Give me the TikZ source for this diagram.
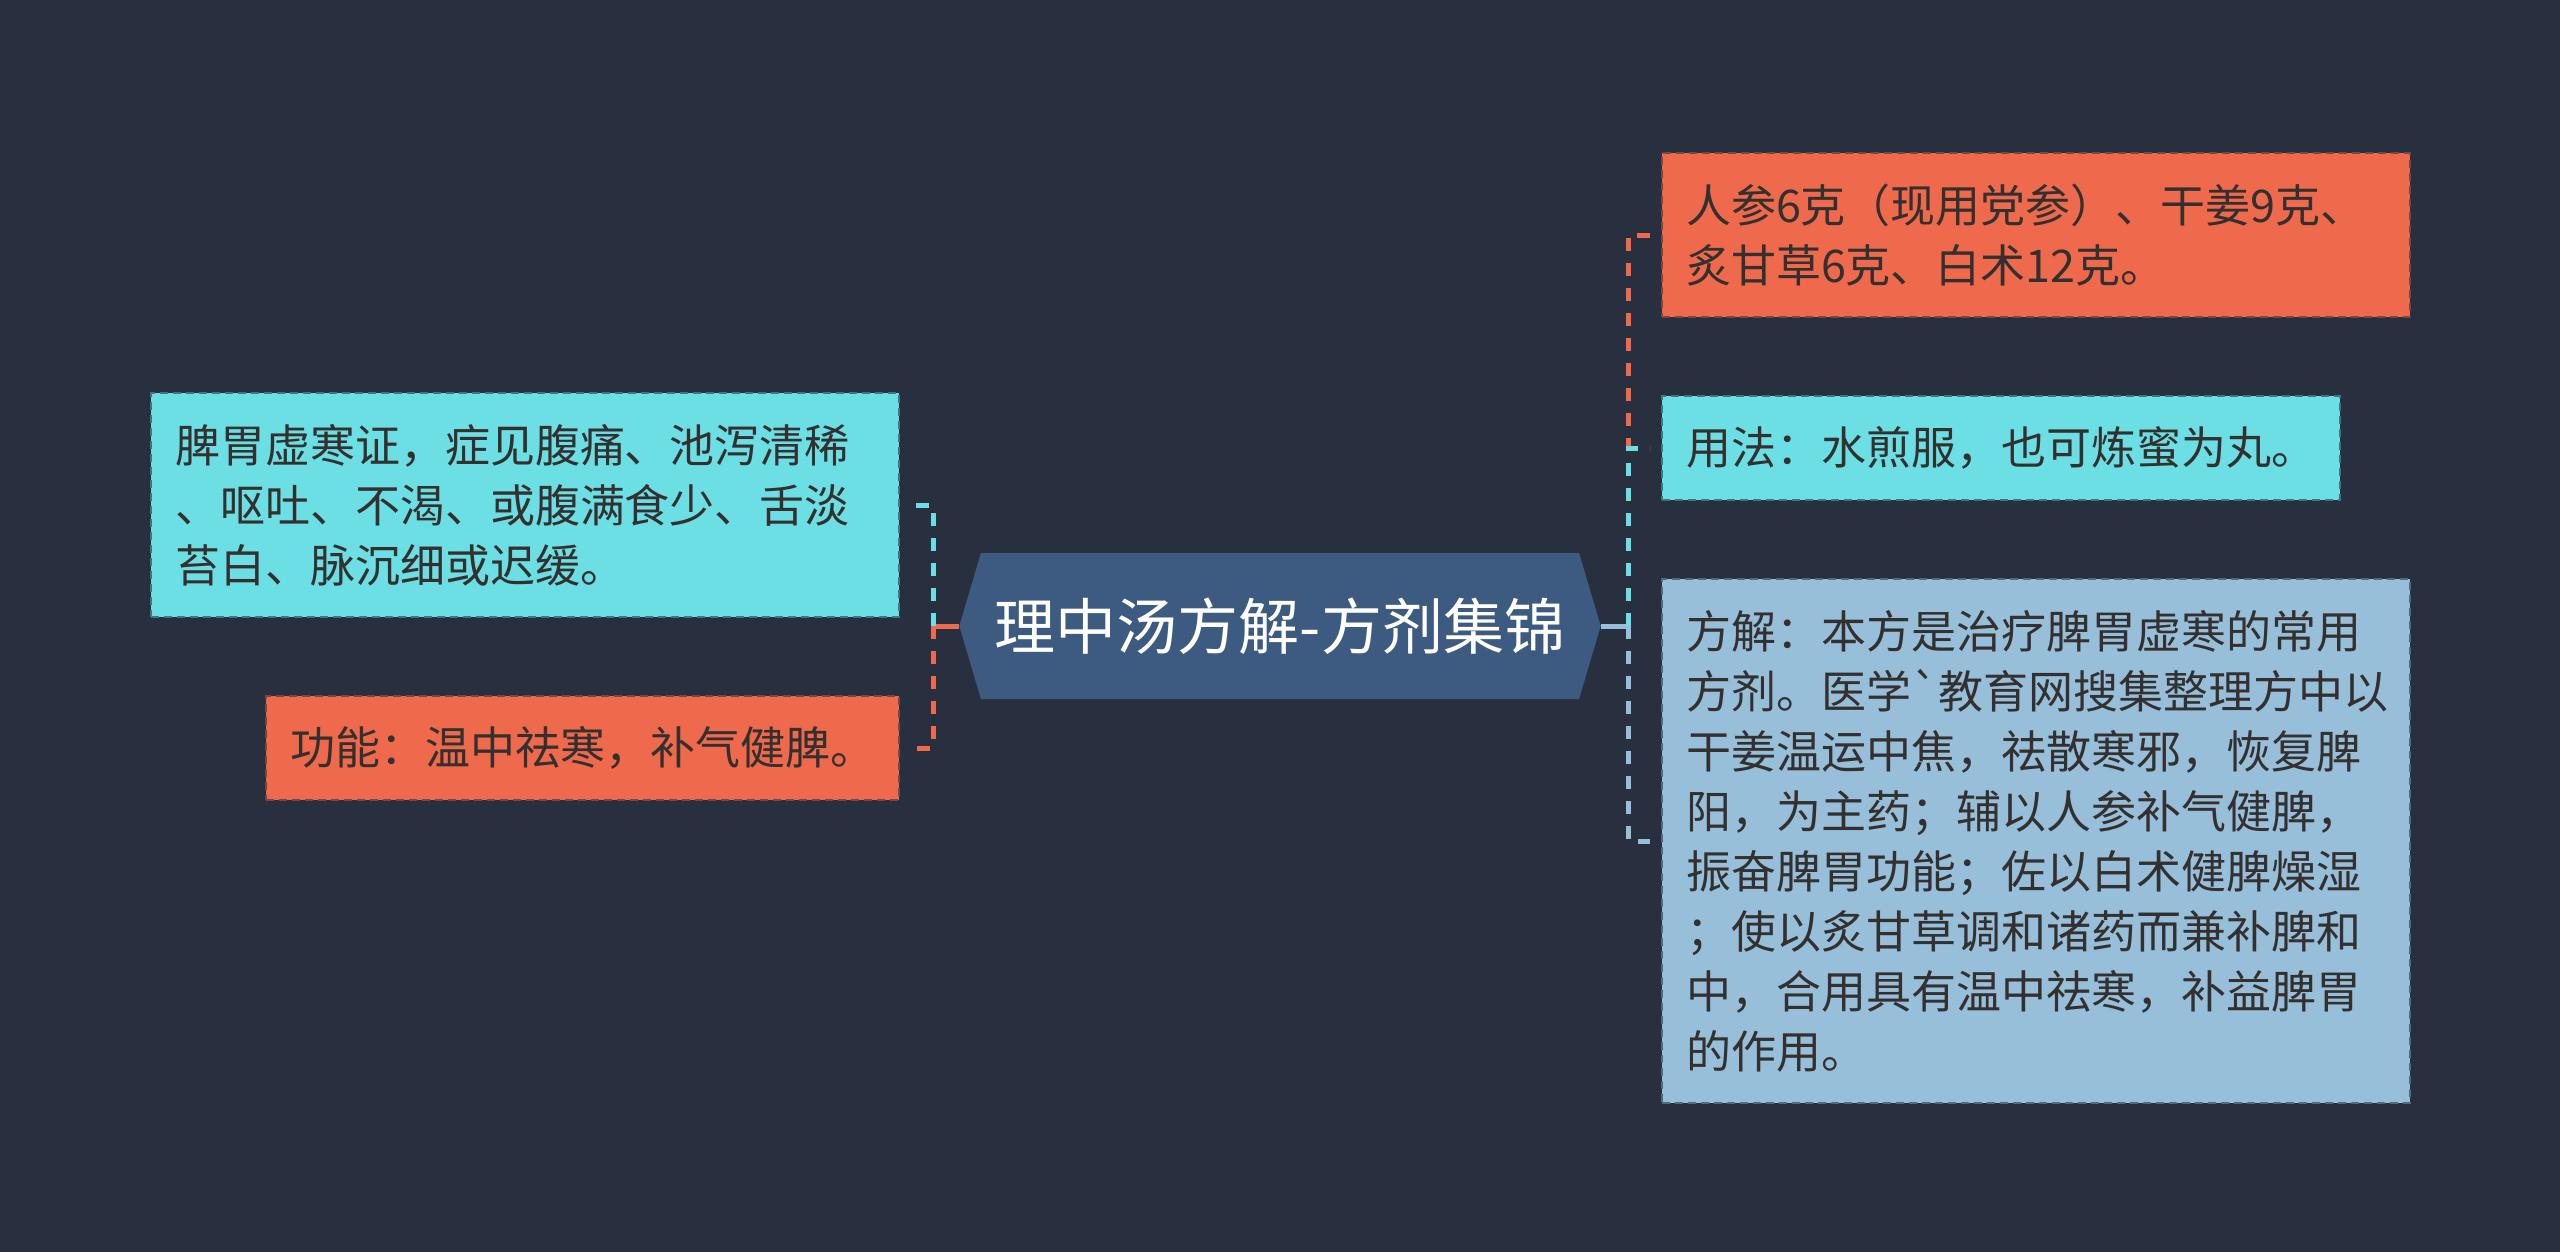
\documentclass[tikz,border=0pt]{standalone}
\usepackage{fontspec}
\newfontfamily\cjkfont{Noto Sans CJK SC}
\usetikzlibrary{shapes.symbols,positioning}

\definecolor{bgnavy}{HTML}{282F3E}
\definecolor{rootblue}{HTML}{3D5A80}
\definecolor{coral}{HTML}{EF6A4C}
\definecolor{aqua}{HTML}{6CDFE4}
\definecolor{skyblue}{HTML}{97BFD9}
\definecolor{inkdark}{HTML}{33302F}

\begin{document}
\begin{tikzpicture}[x=0.5pt, y=-0.5pt,
  root/.style={shape=signal, signal to=west and east, signal pointer angle=147, fill=rootblue, text=white, font=\cjkfont\fontsize{30.5}{36}\selectfont, minimum height=73pt, inner xsep=7pt},
  leaf/.style={rectangle, draw=#1!40!bgnavy, dash pattern=on 4pt off 2.5pt, line width=1pt, fill=#1, text=inkdark, align=left, inner xsep=12pt, inner ysep=11pt, font=\cjkfont\fontsize{22.5}{30}\selectfont},
  wide/.style={text width=350pt},
  branch/.style={line width=2.5pt, dash pattern=on 6.5pt off 6pt, #1},
  stem/.style={line width=2.5pt, #1}]

  \useasboundingbox (0,0) rectangle (2560,1252);
  \fill[bgnavy] (0,0) rectangle (2560,1252);

  \node[root] (root) at (1280,626) {理中汤方解-方剂集锦};

  % right side
  \node[leaf=coral, wide, minimum height=82pt, anchor=north west] (rdose) at (1661,152)
    {人参6克（现用党参）、干姜9克、\\炙甘草6克、白术12克。};
  \node[leaf=aqua, minimum height=52pt, below right=38.5pt and 0pt of rdose.south west] (ruse)
    {用法：水煎服，也可炼蜜为丸。};
  \node[leaf=skyblue, wide, minimum height=262pt, below right=38.5pt and 0pt of ruse.south west] (rnote)
    {方解：本方是治疗脾胃虚寒的常用\\方剂。医学`教育网搜集整理方中以\\干姜温运中焦，祛散寒邪，恢复脾\\阳，为主药；辅以人参补气健脾，\\振奋脾胃功能；佐以白术健脾燥湿\\；使以炙甘草调和诸药而兼补脾和\\中，合用具有温中祛寒，补益脾胃\\的作用。};

  % left side
  \node[leaf=aqua, wide, minimum height=112pt, anchor=north east] (lcause) at (900,392)
    {脾胃虚寒证，症见腹痛、池泻清稀\\、呕吐、不渴、或腹满食少、舌淡\\苔白、脉沉细或迟缓。};
  \node[leaf=coral, minimum height=52pt, below left=38.5pt and 0pt of lcause.south east] (lfunc)
    {功能：温中祛寒，补气健脾。};

  \coordinate (ljoint) at (933,626);
  \coordinate (rjoint) at (1628,626);

  \draw[stem=coral] (root.west) -- (ljoint);
  \draw[stem=skyblue] (root.east) -- (rjoint);
  \draw[branch=aqua] (ljoint) |- ([xshift=7pt]lcause.east);
  \draw[branch=coral] (ljoint) |- ([xshift=7pt]lfunc.east);
  \draw[branch=coral] (rjoint) |- ([xshift=-5.5pt]rdose.west);
  \draw[branch=aqua] (rjoint) |- ([xshift=-5.5pt]ruse.west);
  \draw[branch=skyblue] (rjoint) |- ([xshift=-5.5pt]rnote.west);

\end{tikzpicture}
\end{document}
